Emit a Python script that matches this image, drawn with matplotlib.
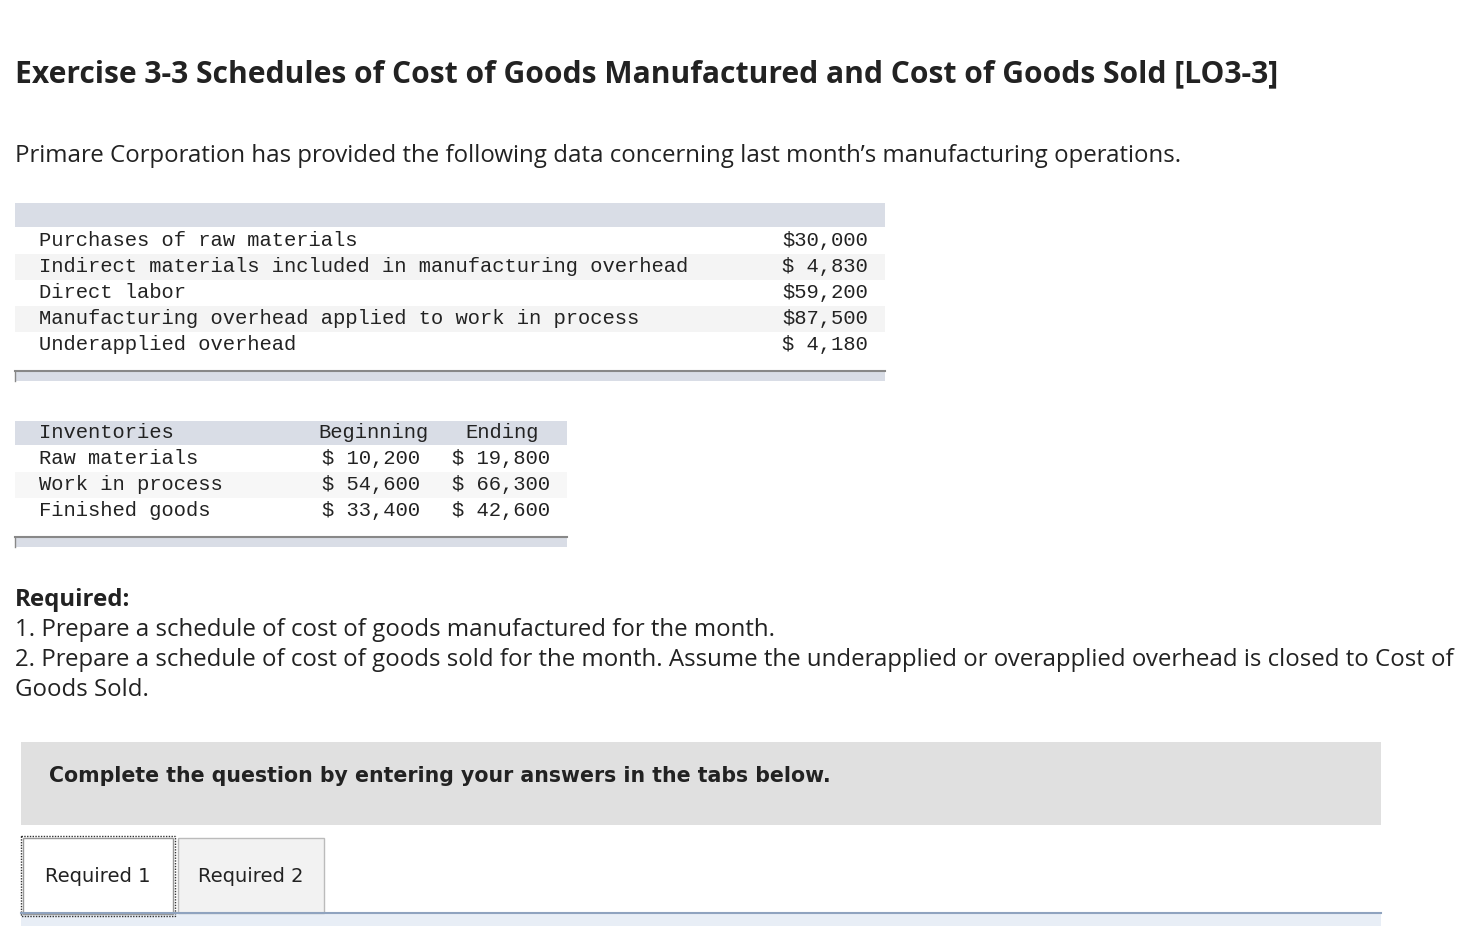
import matplotlib
matplotlib.use("Agg")
import matplotlib.pyplot as plt
from matplotlib.patches import Rectangle

# data
data_labels = ["Purchases of raw materials",
               "Indirect materials included in manufacturing overhead",
               "Direct labor",
               "Manufacturing overhead applied to work in process",
               "Underapplied overhead"]
data_values = ["$30,000", "$ 4,830", "$59,200", "$87,500", "$ 4,180"]

inv_header = ["Inventories", "Beginning", "Ending"]
inv_items = ["Raw materials", "Work in process", "Finished goods"]
inv_begin = ["$ 10,200", "$ 54,600", "$ 33,400"]
inv_end = ["$ 19,800", "$ 66,300", "$ 42,600"]

required_lines = ["1. Prepare a schedule of cost of goods manufactured for the month.",
                  "2. Prepare a schedule of cost of goods sold for the month. Assume the underapplied or overapplied overhead is closed to Cost of",
                  "Goods Sold."]
tabs = ["Required 1", "Required 2"]

SANS = "Open Sans"
MONO = "Liberation Mono"
TXT = "#222222"
MS = 14.8  # mono font size
BS = 17.3  # body font size

fig = plt.figure(figsize=(14.77, 9.26), dpi=100)
ax = fig.add_axes([0, 0, 1, 1])
ax.set_xlim(0, 1477)
ax.set_ylim(926, 0)
ax.axis("off")

ax.text(15, 74, "Exercise 3-3 Schedules of Cost of Goods Manufactured and Cost of Goods Sold [LO3-3]",
        fontsize=21.6, fontweight="bold", family=SANS, color=TXT, va="center")
ax.text(15, 156, "Primare Corporation has provided the following data concerning last month\u2019s manufacturing operations.",
        fontsize=BS, family=SANS, color=TXT, va="center")

# first table
ax.add_patch(Rectangle((15, 203), 870, 24, color="#d9dde6", lw=0))
for i, (lab, val) in enumerate(zip(data_labels, data_values)):
    y = 241 + i * 26
    if i % 2 == 1:
        ax.add_patch(Rectangle((15, y - 13), 870, 26, color="#f4f4f4", lw=0))
    ax.text(39, y, lab, fontsize=MS, family=MONO, color=TXT, va="center")
    ax.text(868, y, val, fontsize=MS, family=MONO, color=TXT, va="center", ha="right")
ax.add_patch(Rectangle((15, 371), 870, 10, color="#d9dde6", lw=0))
ax.plot([15, 885], [371, 371], color="#888888", lw=1.5)
ax.plot([15, 15], [371, 381], color="#888888", lw=1)

# inventories table
ax.add_patch(Rectangle((15, 421), 552, 24, color="#d9dde6", lw=0))
ax.text(39, 433, inv_header[0], fontsize=MS, family=MONO, color=TXT, va="center")
ax.text(373, 433, inv_header[1], fontsize=MS, family=MONO, color=TXT, va="center", ha="center")
ax.text(502, 433, inv_header[2], fontsize=MS, family=MONO, color=TXT, va="center", ha="center")
for i in range(len(inv_items)):
    y = 459 + i * 26
    if i % 2 == 1:
        ax.add_patch(Rectangle((15, y - 13), 552, 26, color="#f7f7f7", lw=0))
    ax.text(39, y, inv_items[i], fontsize=MS, family=MONO, color=TXT, va="center")
    ax.text(420, y, inv_begin[i], fontsize=MS, family=MONO, color=TXT, va="center", ha="right")
    ax.text(550, y, inv_end[i], fontsize=MS, family=MONO, color=TXT, va="center", ha="right")
ax.add_patch(Rectangle((15, 537), 552, 10, color="#d9dde6", lw=0))
ax.plot([15, 567], [537, 537], color="#888888", lw=1.5)
ax.plot([15, 15], [537, 547], color="#888888", lw=1)

ax.text(15, 600, "Required:", fontsize=BS, fontweight="bold", family=SANS, color=TXT, va="center")
for i, line in enumerate(required_lines):
    ax.text(15, 630 + i * 30, line, fontsize=BS, family=SANS, color=TXT, va="center")

# instruction box
ax.add_patch(Rectangle((21, 742), 1360, 83, color="#e0e0e0", lw=0))
ax.text(49, 776, "Complete the question by entering your answers in the tabs below.",
        fontsize=14.8, fontweight="bold", family="DejaVu Sans", color=TXT, va="center")

# tabs
ax.plot([21, 1381], [913, 913], color="#8fa3bf", lw=1.5)
ax.add_patch(Rectangle((21, 914), 1360, 12, color="#e8eef6", lw=0))
ax.add_patch(Rectangle((23, 838), 150, 76, facecolor="white", edgecolor="#999999", lw=1))
ax.add_patch(Rectangle((21, 836), 154, 80, fill=False, edgecolor="#333333", lw=1, ls=(0, (1, 1))))
ax.add_patch(Rectangle((178, 838), 146, 75, facecolor="#f2f2f2", edgecolor="#bbbbbb", lw=1))
ax.text(98, 877, tabs[0], fontsize=14, family="DejaVu Sans", color=TXT, va="center", ha="center")
ax.text(251, 877, tabs[1], fontsize=14, family="DejaVu Sans", color=TXT, va="center", ha="center")

fig.savefig("out.png", dpi=100)
